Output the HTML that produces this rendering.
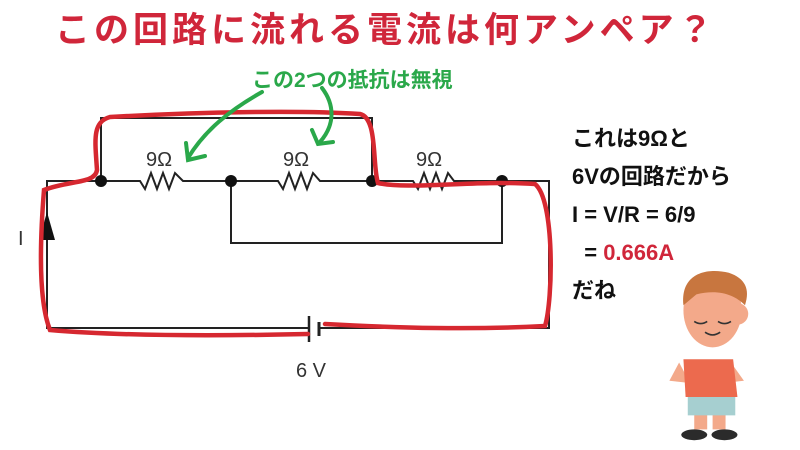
<!DOCTYPE html>
<html><head><meta charset="utf-8"><style>
body{margin:0;width:800px;height:450px;background:#fff;overflow:hidden;position:relative;font-family:"Liberation Sans","Noto Sans CJK JP",sans-serif}
.t{position:absolute;white-space:nowrap;font-weight:bold}
</style></head><body>
<div class="t" style="left:55px;top:2px;font-size:35px;color:#d0263a;letter-spacing:4px">この回路に流れる電流は何アンペア？</div>
<div class="t" style="left:252px;top:64px;font-size:21px;color:#2aa84a">この2つの抵抗は無視</div>
<div class="t" style="left:572px;top:120px;font-size:22px;color:#111;line-height:38px">これは9Ωと<br>6Vの回路だから<br>I = V/R = 6/9<br>&nbsp;&nbsp;= <span style="color:#d0263a">0.666A</span><br>だね</div>
<svg width="800" height="450" style="position:absolute;left:0;top:0">
<g stroke="#222" stroke-width="2" fill="none">
<polyline points="309,328 47,328 47,181 140,181 145,189 151,173 157,189 163,173 169,189 175,173 183,181 278,181 283,189 289,173 295,189 301,173 307,189 313,173 320,181 413,181 418,189 424,173 430,189 436,173 442,189 448,173 454,181 549,181 549,328 320,328"/>
<polyline points="101,181 101,118 372,118 372,181"/>
<polyline points="231,181 231,243 502,243 502,181"/>
<line x1="309" y1="316" x2="309" y2="342" stroke-width="2.5"/>
<line x1="319" y1="322" x2="319" y2="336" stroke-width="3"/>
</g>
<polygon points="47,212 39,240 55,240" fill="#111"/>
<g fill="#111"><circle cx="101" cy="181" r="6"/><circle cx="231" cy="181" r="6"/><circle cx="372" cy="181" r="6"/><circle cx="502" cy="181" r="6"/></g>
<g font-size="20" fill="#333" font-family="Liberation Sans,sans-serif"><text x="146" y="166">9Ω</text><text x="283" y="166">9Ω</text><text x="416" y="166">9Ω</text><text x="296" y="377">6 V</text><text x="18" y="245">I</text></g>
<path d="M308,334 C220,336 120,336 50,330 C38,300 40,240 44,190 C70,180 95,184 97,170 C95,140 92,122 110,117 C200,112 300,110 360,114 C378,118 372,165 378,183 C410,190 470,180 535,184 C555,200 553,300 545,326 C470,330 400,328 325,324" stroke="#d62830" stroke-width="4.5" fill="none" stroke-linecap="round"/>
<g stroke="#2aa84a" stroke-width="4" fill="none" stroke-linecap="round">
<path d="M262,92 C230,110 205,130 188,158"/><path d="M186,143 L188,160 L205,156"/>
<path d="M322,88 C335,105 335,125 320,142"/><path d="M312,130 L318,144 L333,142"/>
</g>
<g transform="translate(664,262) scale(1.08)">
<rect x="28" y="130" width="12" height="25" fill="#f3a98a"/><rect x="45" y="130" width="12" height="25" fill="#f3a98a"/>
<rect x="22" y="120" width="44" height="22" fill="#a6cfd0"/>
<ellipse cx="28" cy="160" rx="12" ry="5" fill="#2b2b2b"/><ellipse cx="56" cy="160" rx="12" ry="5" fill="#2b2b2b"/>
<path d="M5,110 L14,93 L24,112 Z" fill="#f3a98a"/><path d="M74,110 L62,93 L55,112 Z" fill="#f3a98a"/>
<path d="M18,90 L64,90 L68,125 L20,125 Z" fill="#ec6a4e"/>
<circle cx="68" cy="48" r="10" fill="#f3a98a"/>
<ellipse cx="45" cy="45" rx="27" ry="34" fill="#f3a98a"/>
<path d="M18,40 C15,10 40,5 60,10 C75,15 80,25 75,40 C65,30 50,25 30,30 Z" fill="#c8763f"/>
<path d="M28,55 Q34,59 40,55 M50,55 Q56,59 62,55 M38,65 Q45,70 52,65" stroke="#333" stroke-width="1.5" fill="none"/>
</g>
</svg>
</body></html>
